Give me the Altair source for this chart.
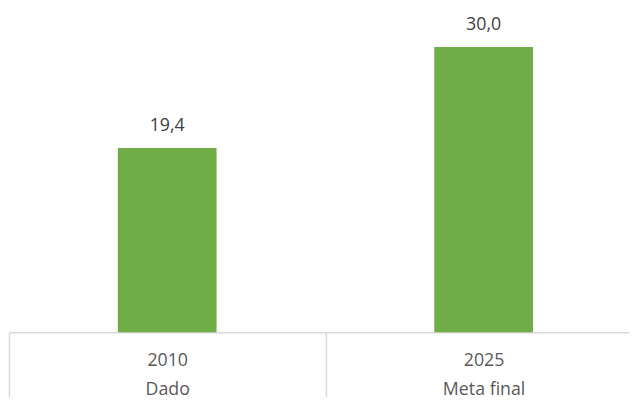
import altair as alt
import pandas as pd

years = ["2010", "2025"]
kinds = ["Dado", "Meta final"]
values = [19.4, 30.0]

cats = [f"{y}|{k}" for y, k in zip(years, kinds)]
df = pd.DataFrame({
    "pos": list(range(len(cats))),
    "cat": cats,
    "value": values,
    "label": [f"{v:.1f}".replace(".", ",") for v in values],
})

FONT = "Open Sans"
W = 628
STEP = 320.5  # pixel width of one category band

xscale = alt.Scale(domain=[-0.5, W / STEP - 0.5], nice=False, zero=False, padding=0)
lab_array = "[" + ",".join(f"'{c}'" for c in cats) + "]"

# separators at band boundaries that fall inside the visible width
tick_axis = alt.Axis(
    title=None,
    values=[i - 0.5 for i in range(len(cats))],
    labels=False,
    tickSize=65,
    tickColor="#D9D9D9",
    tickWidth=1.5,
    domainColor="#D9D9D9",
    domainWidth=1.5,
    grid=False,
    orient="bottom",
)
label_axis = alt.Axis(
    title=None,
    values=list(range(len(cats))),
    labelExpr=f"split({lab_array}[datum.value], '|')",
    labelAngle=0,
    labelFont=FONT,
    labelFontSize=18,
    labelColor="#595959",
    labelBaseline="alphabetic",
    labelLineHeight=29,
    labelPadding=34,
    ticks=False,
    tickSize=0,
    domain=False,
    grid=False,
    orient="bottom",
)

y = alt.Y("value:Q", scale=alt.Scale(domain=[0, 33.85], nice=False), axis=None)

bars = alt.Chart(df).mark_bar(size=100, color="#70AD47").encode(
    x=alt.X("pos:Q", scale=xscale, axis=tick_axis), y=y
)
text = alt.Chart(df).mark_text(
    dy=-17, baseline="alphabetic", font=FONT, fontSize=18, color="#404040"
).encode(x=alt.X("pos:Q", scale=xscale, axis=label_axis), y=y, text="label:N")

chart = (bars + text).resolve_axis(x="independent").properties(
    width=W,
    height=326,
    autosize=alt.AutoSizeParams(type="none"),
    padding={"left": 1, "top": 0, "right": 0, "bottom": 65},
).configure_view(stroke=None)

chart.save("out.html", embed_options={"renderer": "svg", "actions": False})
